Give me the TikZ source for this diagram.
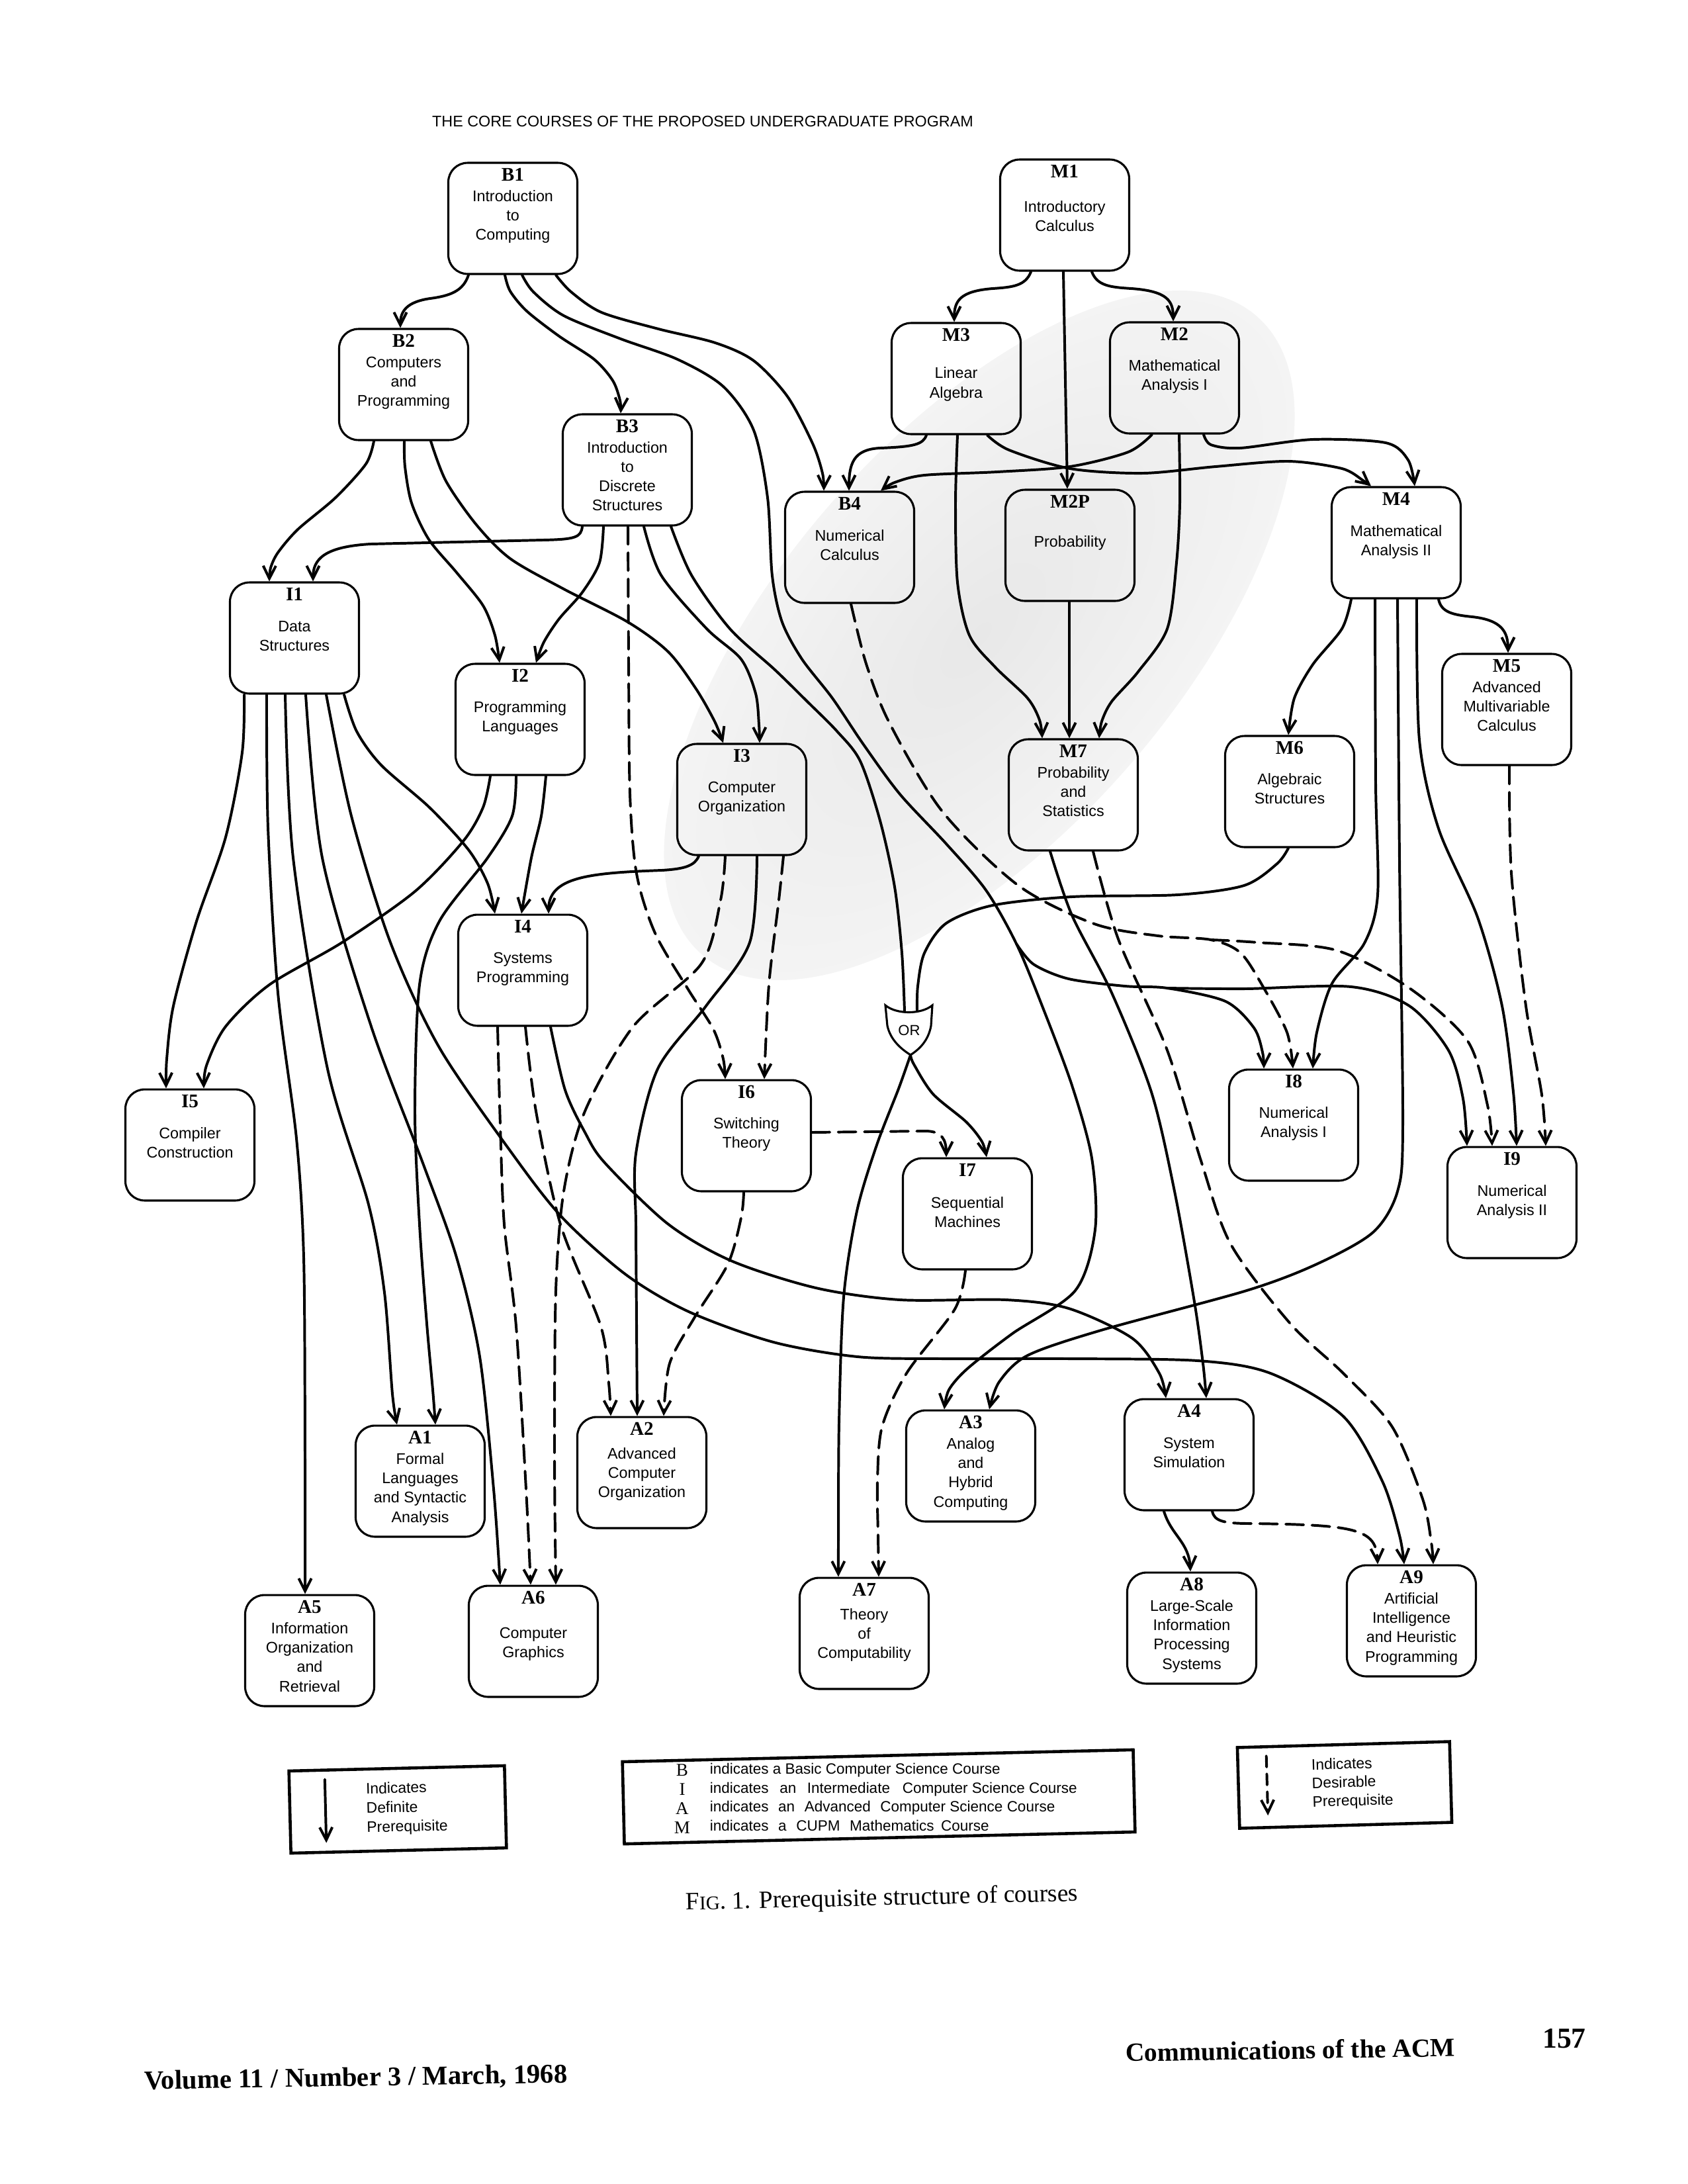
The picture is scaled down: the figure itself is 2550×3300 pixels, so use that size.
\documentclass[tikz,border=0pt]{standalone}
\usepackage{fontspec}
\setmainfont{Liberation Serif}
\setsansfont{Liberation Sans}
\usetikzlibrary{arrows.meta}
\pgfdeclareradialshading{blob}{\pgfpoint{0bp}{0bp}}{color(0bp)=(black!9); color(22bp)=(black!5); color(46bp)=(white); color(50bp)=(white)}
\newcommand\tfont{\sffamily\fontsize{5.6}{7}\selectfont}
\newcommand\lfont{\rmfamily\bfseries\fontsize{7}{8}\selectfont}
\newcommand\legtext{\sffamily\fontsize{5.5}{7}\selectfont}
\tikzset{
  cbox/.style={draw, rounded corners=7pt, minimum width=46.8pt, minimum height=40.3pt, inner sep=0pt, line width=0.75pt},
  clab/.style={anchor=base, inner sep=0pt, font=\lfont},
  ctxt/.style={anchor=north, inner sep=0pt, align=center, font=\tfont},
  conn/.style={line width=0.95pt, line cap=round, line join=round},
  arr/.style={conn, -{Straight Barb[length=4.6pt,width=4.6pt]}},
  dsh/.style={dash pattern=on 6.5pt off 3pt},
  darr/.style={arr, dsh},
  legbox/.style={draw, line width=1.1pt, inner sep=0pt},
}
\newcommand\course[6]{%
  \node[cbox] (#1) at (#2,#3) {};
  \node[clab] (#1-l) at ([yshift=-6.96pt]#1.north) {#4};
  \node[ctxt] (#1-t) at ([yshift=-#6pt]#1.north) {\rule{0pt}{4.3pt}#5};
}
\begin{document}
\begin{tikzpicture}[x=0.24pt,y=-0.24pt]
\useasboundingbox (0,0) rectangle (2550,3300);
\begin{scope}[transform canvas={shift={(1480,960)}, rotate=49, xscale=2.13}]
  \shade[shading=blob] (0,0) circle [radius=300];
\end{scope}

\node[anchor=base, inner sep=0pt, font=\sffamily\fontsize{5.6}{6}\selectfont] (head) at (1062,191) {THE CORE COURSES OF THE PROPOSED UNDERGRADUATE PROGRAM};

% courses
\course{B1}{775}{330}{B1}{Introduction\\to\\Computing}{9.9}
\course{B2}{610}{581}{B2}{Computers\\and\\Programming}{9.9}
\course{B3}{948}{710}{B3}{Introduction\\to\\Discrete\\Structures}{9.9}
\course{B4}{1284}{827}{B4}{Numerical\\Calculus}{13.7}
\course{M1}{1609}{325}{M1}{Introductory\\Calculus}{15}
\course{M3}{1445}{572}{M3}{Linear\\Algebra}{16}
\course{M2}{1775}{571}{M2}{Mathematical\\Analysis I}{13.5}
\course{M2P}{1617}{824}{M2P}{Probability}{16.6}
\course{M4}{2110}{820}{M4}{Mathematical\\Analysis II}{13.7}
\course{I1}{445}{964}{I1}{Data\\Structures}{13.7}
\course{I2}{786}{1087}{I2}{Programming\\Languages}{13.5}
\course{I3}{1121}{1208}{I3}{Computer\\Organization}{13.5}
\course{M7}{1622}{1201}{M7}{Probability\\and\\Statistics}{9.9}
\course{M6}{1949}{1196}{M6}{Algebraic\\Structures}{13.5}
\course{M5}{2277}{1072}{M5}{Advanced\\Multivariable\\Calculus}{9.9}
\course{I4}{790}{1466}{I4}{Systems\\Programming}{13.5}
\course{I5}{287}{1730}{I5}{Compiler\\Construction}{13.7}
\course{I6}{1128}{1716}{I6}{Switching\\Theory}{13.5}
\course{I7}{1462}{1834}{I7}{Sequential\\Machines}{14}
\course{I8}{1955}{1700}{I8}{Numerical\\Analysis I}{13.5}
\course{I9}{2285}{1817}{I9}{Numerical\\Analysis II}{13.7}
\course{A1}{635}{2238}{A1}{Formal\\Languages\\and Syntactic\\Analysis}{9.9}
\course{A2}{970}{2225}{A2}{Advanced\\Computer\\Organization}{11}
\course{A3}{1467}{2215}{A3}{Analog\\and\\Hybrid\\Computing}{9.9}
\course{A4}{1797}{2198}{A4}{System\\Simulation}{13.7}
\course{A5}{468}{2494}{A5}{Information\\Organization\\and\\Retrieval}{9.9}
\course{A6}{806}{2480}{A6}{Computer\\Graphics}{15}
\course{A7}{1306}{2468}{A7}{Theory\\of\\Computability}{11}
\course{A8}{1801}{2460}{A8}{Large-Scale\\Information\\Processing\\Systems}{9.9}
\course{A9}{2133}{2449}{A9}{Artificial\\Intelligence\\and Heuristic\\Programming}{9.9}

% OR gate
\draw[line width=0.75pt] (1338,1519) .. controls (1355,1533) and (1392,1533) .. (1409,1519) -- (1407,1550) .. controls (1403,1572) and (1390,1585) .. (1376,1594) .. controls (1362,1585) and (1346,1572) .. (1341,1550) -- cycle;
\node[inner sep=0pt, font=\sffamily\fontsize{5.3}{6}\selectfont] (OR) at (1374,1557) {OR};
\coordinate (ORa) at (1367,1528);
\coordinate (ORb) at (1386,1528);
\coordinate (ORo) at (1376,1594);
\coordinate (s1) at (1536,1426);
\coordinate (s2) at (1764,1493);
\coordinate (s3) at (1830,1420);

% B1
\draw[arr] ([xshift=-16.08pt]B1.south) .. controls (700,440) and (680,447) .. (650,451) .. controls (615,456) and (605,470) .. ([xshift=-1.2pt]B2.north);
\draw[arr] plot[smooth] coordinates {([xshift=-2.88pt]B1.south) (771,440) (796,470) (845,508) (898,543) (926,575) (937,605) ([xshift=-2.4pt]B3.north)};
\draw[arr] plot[smooth] coordinates {([xshift=15.6pt]B1.south) (863,441) (909,472) (995,497) (1081,518) (1139,545) (1190,599) (1228,670) (1243,715) ([xshift=-9.36pt]B4.north)};
\draw[arr] plot[smooth] coordinates {([xshift=3.36pt]B1.south) (806,441) (852,477) (938,512) (1024,543) (1093,584) (1139,650) (1160,752) (1167,870) (1182,940) (1212,996) (1258,1055) (1305,1125) (1360,1200) (1430,1275) (1490,1345) (s1) (1575,1520) (1620,1640) (1650,1750) (1655,1858) (1625,1950) (1530,2015) (1462,2068) (1434,2100) ([xshift=-9.6pt]A3.north)};
\draw[arr] plot[smooth] coordinates {(s1) (1562,1457) (1615,1479) (1700,1490) (s2) (1852,1513) (1895,1553) (1908,1590) ([xshift=-10.8pt]I8.north)};
\draw[arr] plot[smooth] coordinates {(s2) (1881,1494) (2042,1491) (2130,1520) (2189,1587) (2211,1660) ([xshift=-16.32pt]I9.north)};

% B2
\draw[arr] plot[smooth] coordinates {([xshift=-10.8pt]B2.south) (553,701) (507,752) (450,800) (420,835) (409,858) ([xshift=-9.12pt]I1.north)};
\draw[arr] plot[smooth] coordinates {([xshift=0.24pt]B2.south) (612,705) (622,760) (648,815) (690,865) (730,915) (748,960) ([xshift=-7.44pt]I2.north)};
\draw[arr] plot[smooth] coordinates {([xshift=9.84pt]B2.south) (674,727) (720,793) (771,844) (852,890) (949,940) (1010,985) (1052,1041) (1080,1090) ([xshift=-6.72pt]I3.north)};

% B3
\draw[arr] ([xshift=-16.32pt]B3.south) .. controls (878,812) and (870,815) .. (820,816) -- (560,822) .. controls (490,826) and (473,845) .. ([xshift=6.72pt]I1.north);
\draw[arr] plot[smooth] coordinates {([xshift=-8.64pt]B3.south) (906,850) (880,895) (845,935) (822,970) ([xshift=5.76pt]I2.north)};
\draw[darr] plot[smooth] coordinates {([xshift=0.24pt]B3.south) (950,1000) (952,1200) (962,1320) (990,1410) (1040,1495) (1078,1555) (1093,1600) ([xshift=-7.68pt]I6.north)};
\draw[arr] plot[smooth] coordinates {([xshift=6pt]B3.south) (999,869) (1068,950) (1120,996) (1142,1048) (1147,1095) ([xshift=6.48pt]I3.north)};
\draw[conn] plot[smooth] coordinates {([xshift=15.84pt]B3.south) (1045,869) (1103,950) (1171,1012) (1220,1060) (1265,1105) (1300,1150) (1330,1240) (1352,1340) (1363,1440) (ORa)};

% OR
\draw[conn] plot[smooth] coordinates {([xshift=-0.48pt]M6.south) (1930,1305) (1880,1338) (1780,1352) (1620,1355) (1500,1368) (1430,1395) (1397,1440) (1387,1490) (ORb)};
\draw[arr] plot[smooth] coordinates {(ORo) (1381,1608) (1410,1653) (1460,1695) (1484,1725) ([xshift=6.96pt]I7.north)};
\draw[arr] plot[smooth] coordinates {(ORo) (1358,1645) (1325,1730) (1295,1830) (1275,1960) (1268,2150) (1267,2330) ([xshift=-9.36pt]A7.north)};

% M1, M2, M3, M2P
\draw[arr] ([xshift=-12.24pt]M1.south) .. controls (1550,432) and (1530,434) .. (1500,436) .. controls (1450,440) and (1442,455) .. ([xshift=-0.72pt]M3.north);
\draw[arr] ([xshift=-0.48pt]M1.south) -- ([xshift=-0.96pt]M2P.north);
\draw[arr] ([xshift=9.84pt]M1.south) .. controls (1658,432) and (1678,434) .. (1710,436) .. controls (1765,440) and (1773,455) .. ([xshift=-0.48pt]M2.north);
\draw[arr] ([xshift=-10.8pt]M3.south) .. controls (1395,672) and (1380,675) .. (1330,677) .. controls (1290,679) and (1283,700) .. ([xshift=-0.24pt]B4.north);
\draw[arr] plot[smooth] coordinates {([xshift=-8.16pt]M2.south) (1705,683) (1617,705) (1507,713) (1397,718) (1352,729) ([xshift=11.28pt]B4.north)};
\draw[arr] plot[smooth] coordinates {([xshift=11.28pt]M3.south) (1525,680) (1617,708) (1727,715) (1837,705) (1947,697) (2028,708) (2060,726) ([xshift=-9.12pt]M4.north)};
\draw[arr] plot[smooth] coordinates {([xshift=10.56pt]M2.south) (1830,672) (1874,677) (1984,664) (2094,669) (2128,695) ([xshift=6.72pt]M4.north)};
\draw[arr] plot[smooth] coordinates {([xshift=0.48pt]M3.south) (1444,760) (1447,880) (1465,960) (1504,1008) (1553,1055) (1571,1088) ([xshift=-11.28pt]M7.north)};
\draw[arr] ([xshift=-0.24pt]M2P.south) -- ([xshift=-1.44pt]M7.north);
\draw[arr] plot[smooth] coordinates {([xshift=1.68pt]M2.south) (1783,760) (1778,850) (1764,950) (1720,1015) (1680,1060) (1665,1090) ([xshift=9.36pt]M7.north)};

% M4, M5
\draw[arr] plot[smooth] coordinates {([xshift=-16.32pt]M4.south) (2028,950) (1984,1004) (1956,1055) ([xshift=-0.48pt]M6.north)};
\draw[arr] plot[smooth] coordinates {([xshift=-7.68pt]M4.south) (2079,1185) (2082,1352) (2062,1425) (2013,1486) (1990,1560) ([xshift=6.96pt]I8.north)};
\draw[arr] plot[smooth] coordinates {([xshift=0.48pt]M4.south) (2115,1300) (2120,1700) (2112,1800) (2075,1862) (1990,1910) (1884,1950) (1664,2010) (1553,2048) (1510,2088) ([xshift=6.72pt]A3.north)};
\draw[arr] plot[smooth] coordinates {([xshift=7.44pt]M4.south) (2145,1118) (2174,1252) (2233,1386) (2270,1520) (2287,1650) ([xshift=1.68pt]I9.north)};
\draw[arr] ([xshift=15.36pt]M4.south) .. controls (2178,925) and (2195,929) .. (2225,932) .. controls (2270,937) and (2279,955) .. ([xshift=0.48pt]M5.north);
\draw[darr] plot[smooth] coordinates {([xshift=0.96pt]M5.south) (2284,1319) (2306,1520) (2330,1654) ([xshift=12.24pt]I9.north)};

% B4 dashed
\draw[darr] plot[smooth] coordinates {([xshift=0.48pt]B4.south) (1309,1003) (1344,1092) (1424,1226) (1539,1338) (1654,1396) (1750,1414) (s3) (1875,1440) (1910,1493) (1945,1560) ([xshift=-0.24pt]I8.north)};
\draw[darr] plot[smooth] coordinates {(s3) (1900,1424) (2020,1436) (2130,1493) (2218,1573) (2248,1670) ([xshift=-7.2pt]I9.north)};

% M7
\draw[arr] plot[smooth] coordinates {([xshift=-8.4pt]M7.south) (1620,1383) (1680,1500) (1740,1650) (1775,1800) (1805,1967) (1818,2060) ([xshift=6.24pt]A4.north)};
\draw[darr] plot[smooth] coordinates {([xshift=7.2pt]M7.south) (1690,1419) (1764,1587) (1815,1754) (1860,1880) (1950,2000) (2030,2075) (2104,2156) (2150,2265) (2163,2330) ([xshift=7.92pt]A9.north)};

% I1
\draw[arr] plot[smooth] coordinates {([xshift=-18.24pt]I1.south) (366,1137) (341,1265) (297,1392) (262,1520) (252,1600) ([xshift=-8.64pt]I5.north)};
\draw[arr] plot[smooth] coordinates {([xshift=-10.08pt]I1.south) (405,1250) (420,1500) (448,1720) (459,1900) (461,2200) ([xshift=-1.68pt]A5.north)};
\draw[arr] plot[smooth] coordinates {([xshift=-3.36pt]I1.south) (443,1296) (495,1615) (557,1820) (581,1953) (593,2106) ([xshift=-8.4pt]A1.north)};
\draw[arr] plot[smooth] coordinates {([xshift=4.08pt]I1.south) (487,1296) (561,1551) (640,1760) (690,1900) (725,2050) (746,2250) ([xshift=-12pt]A6.north)};
\draw[arr] plot[smooth] coordinates {([xshift=11.52pt]I1.south) (531,1233) (590,1424) (664,1583) (774,1743) (850,1840) (946,1926) (1041,1982) (1169,2028) (1296,2050) (1424,2053) (1615,2053) (1810,2056) (1920,2075) (2030,2140) (2089,2238) (2115,2320) ([xshift=-2.64pt]A9.north)};
\draw[arr] plot[smooth] coordinates {([xshift=18pt]I1.south) (539,1105) (576,1156) (649,1220) (708,1284) (737,1335) ([xshift=-10.08pt]I4.north)};

% I2
\draw[arr] plot[smooth] coordinates {([xshift=-10.8pt]I2.south) (730,1220) (700,1271) (627,1347) (517,1424) (407,1488) (341,1551) (312,1610) ([xshift=5.04pt]I5.north)};
\draw[arr] plot[smooth] coordinates {([xshift=-1.44pt]I2.south) (774,1233) (737,1296) (664,1392) (634,1488) (627,1679) (634,1850) (645,2000) (654,2100) ([xshift=5.52pt]A1.north)};
\draw[arr] plot[smooth] coordinates {([xshift=9.36pt]I2.south) (818,1233) (803,1296) ([xshift=-0.48pt]I4.north)};

% I3
\draw[arr] ([xshift=-15.6pt]I3.south) .. controls (1050,1308) and (1035,1313) .. (1000,1315) .. controls (890,1319) and (829,1325) .. ([xshift=9.36pt]I4.north);
\draw[darr] plot[smooth] coordinates {([xshift=-6pt]I3.south) (1089,1360) (1060,1456) (957,1551) (884,1679) (852,1800) (840,1950) (838,2200) ([xshift=8.16pt]A6.north)};
\draw[arr] plot[smooth] coordinates {([xshift=5.52pt]I3.south) (1133,1424) (1067,1520) (994,1615) (961,1743) (961,1850) (962,2000) ([xshift=-1.68pt]A2.north)};
\draw[darr] plot[smooth] coordinates {([xshift=15.12pt]I3.south) (1177,1360) (1162,1488) ([xshift=6.48pt]I6.north)};

% I4
\draw[darr] plot[smooth] coordinates {([xshift=-9.12pt]I4.south) (756,1700) (762,1850) (780,2004) (795,2250) ([xshift=-0.96pt]A6.north)};
\draw[darr] plot[smooth] coordinates {([xshift=0.96pt]I4.south) (810,1679) (847,1850) (908,2004) (920,2090) ([xshift=-11.28pt]A2.north)};
\draw[arr] plot[smooth] coordinates {([xshift=10.08pt]I4.south) (854,1647) (884,1711) (914,1757) (1009,1849) (1105,1905) (1233,1946) (1360,1964) (1520,1964) (1615,1977) (1711,2022) (1752,2075) ([xshift=-8.4pt]A4.north)};

% I6, I7
\draw[darr] ([yshift=1.2pt]I6.east) -- (1398,1709) .. controls (1424,1709) and (1430,1722) .. ([xshift=-7.68pt]I7.north);
\draw[darr] plot[smooth] coordinates {([xshift=-0.96pt]I6.south) (1120,1840) (1100,1910) (1050,1990) (1012,2060) ([xshift=7.92pt]A2.north)};
\draw[darr] plot[smooth] coordinates {([xshift=-0.72pt]I7.south) (1443,1978) (1370,2075) (1333,2156) (1326,2238) (1327,2320) ([xshift=5.28pt]A7.north)};

% A4
\draw[arr] ([xshift=-9.12pt]A4.south) .. controls (1770,2320) and (1797,2330) .. ([xshift=-0.48pt]A8.north);
\draw[darr] ([xshift=8.4pt]A4.south) .. controls (1835,2298) and (1848,2302) .. (1890,2302) .. controls (2050,2304) and (2080,2310) .. ([xshift=-12.24pt]A9.north);

% legends
\begin{scope}[rotate around={1.4:(601,2734)}, transform shape]
  \node[legbox, minimum width=78.2pt, minimum height=29.8pt] (legL) at (601,2734) {};
  \coordinate (legLa) at (492,2686);
  \coordinate (legLb) at (492,2782);
  \draw[arr] (legLa) -- (legLb);
  \node[anchor=north west, inner sep=0pt, align=left, font=\legtext] (legLt) at (553,2691) {\rule{0pt}{4.2pt}Indicates\\Definite\\Prerequisite};
\end{scope}
\begin{scope}[rotate around={1.34:(1328,2715)}, transform shape]
  \node[legbox, minimum width=185.3pt, minimum height=29.8pt] (legM) at (1328,2715) {};
\end{scope}
\node[anchor=north, inner sep=0pt, align=center, font=\rmfamily\fontsize{6.5}{6.9}\selectfont] (legMl) at (1031,2665) {\rule{0pt}{4.3pt}B\\I\\A\\M};
\node[anchor=north west, inner sep=0pt, align=left, font=\sffamily\fontsize{5.4}{6.9}\selectfont] (legMt) at (1072,2662) {\rule{0pt}{4.2pt}indicates a Basic Computer Science Course\\indicates\hspace{2.5pt} an\hspace{2.5pt} Intermediate\hspace{3pt} Computer Science Course\\indicates\hspace{2pt} an\hspace{2pt} Advanced\hspace{2pt} Computer Science Course\\indicates\hspace{2pt} a\hspace{2pt} CUPM\hspace{2pt} Mathematics\hspace{1pt} Course};
\begin{scope}[rotate around={1.6:(2032,2697)}, transform shape]
  \node[legbox, minimum width=77pt, minimum height=29.3pt] (legR) at (2032,2697) {};
  \coordinate (legRa) at (1915,2650);
  \coordinate (legRb) at (1915,2740);
  \draw[arr, dash pattern=on 4pt off 2.5pt] (legRa) -- (legRb);
  \node[anchor=north west, inner sep=0pt, align=left, font=\sffamily\fontsize{5.5}{6.7}\selectfont] (legRt) at (1982,2654.5) {\rule{0pt}{4.2pt}Indicates\\Desirable\\Prerequisite};
\end{scope}

\node[anchor=base, inner sep=0pt, rotate=1.3, font=\rmfamily\fontsize{9}{11}\selectfont] (cap) at (1333,2879) {F{\fontsize{7}{8}\selectfont IG}. 1. Prerequisite structure of courses};

\node[anchor=base, inner sep=0pt, rotate=0.9, font=\rmfamily\bfseries\fontsize{9.8}{11}\selectfont] (vol) at (538,3152) {Volume 11 / Number 3 / March, 1968};
\node[anchor=base, inner sep=0pt, rotate=0.9, font=\rmfamily\bfseries\fontsize{9.5}{11}\selectfont] (cacm) at (1950,3111) {Communications of the ACM};
\node[anchor=base, inner sep=0pt, font=\rmfamily\bfseries\fontsize{10.5}{12}\selectfont] (pg) at (2364,3094) {157};
\end{tikzpicture}
\end{document}
